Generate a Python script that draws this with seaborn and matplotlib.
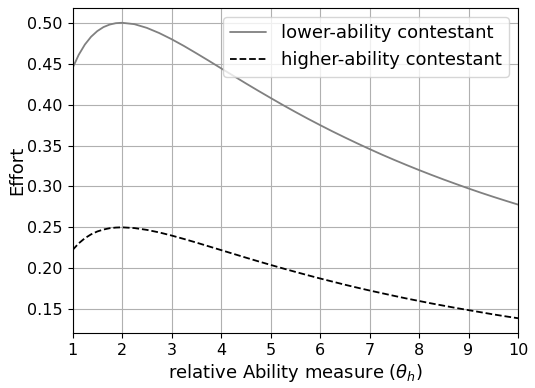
import numpy as np
import pandas as pd
import matplotlib
matplotlib.use("Agg")
import matplotlib.pyplot as plt
import seaborn as sns

theta = [1, 1.125, 1.25, 1.375, 1.5, 1.625, 1.75, 1.875, 2, 2.25, 2.5, 2.75, 3, 3.25, 3.5, 3.75,
         4, 4.25, 4.5, 4.75, 5, 5.25, 5.5, 5.75, 6, 6.25, 6.5, 6.75, 7, 7.25, 7.5, 7.75,
         8, 8.25, 8.5, 8.75, 9, 9.25, 9.5, 9.75, 10]
lower_effort = [0.4444, 0.4608, 0.4734, 0.4829, 0.4898, 0.4947, 0.4978, 0.4995, 0.5000, 0.4983,
                0.4938, 0.4875, 0.4800, 0.4717, 0.4628, 0.4537, 0.4444, 0.4352, 0.4260, 0.4170,
                0.4082, 0.3995, 0.3911, 0.3829, 0.3750, 0.3673, 0.3599, 0.3527, 0.3457, 0.3389,
                0.3324, 0.3261, 0.3200, 0.3141, 0.3084, 0.3029, 0.2975, 0.2923, 0.2873, 0.2825, 0.2778]
higher_effort = [0.2222, 0.2304, 0.2367, 0.2414, 0.2449, 0.2473, 0.2489, 0.2497, 0.2500, 0.2491,
                 0.2469, 0.2438, 0.2400, 0.2358, 0.2314, 0.2268, 0.2222, 0.2176, 0.2130, 0.2085,
                 0.2041, 0.1998, 0.1956, 0.1915, 0.1875, 0.1837, 0.1799, 0.1763, 0.1728, 0.1695,
                 0.1662, 0.1630, 0.1600, 0.1570, 0.1542, 0.1514, 0.1488, 0.1462, 0.1436, 0.1412, 0.1389]
series_names = ["lower-ability contestant", "higher-ability contestant"]

sns.set_style("white")
plt.rcParams["text.color"] = "black"
plt.rcParams["axes.labelcolor"] = "black"
plt.rcParams["xtick.color"] = "black"
plt.rcParams["ytick.color"] = "black"
fig = plt.figure(figsize=(5.35, 3.88), dpi=100)
ax = fig.add_axes([72.5/535, 55/388, (518-72.5)/535, (333-8)/388])

df = pd.DataFrame({"theta": theta, "lower": lower_effort, "higher": higher_effort})
sns.lineplot(data=df, x="theta", y="lower", ax=ax, color="gray", lw=1.3, label=series_names[0])
sns.lineplot(data=df, x="theta", y="higher", ax=ax, color="black", lw=1.3, ls="--", label=series_names[1])

ax.set_xlim(1, 10)
ax.set_xticks(range(1, 11))
ax.set_yticks([0.15, 0.20, 0.25, 0.30, 0.35, 0.40, 0.45, 0.50])
ax.grid(True, color="#b0b0b0", lw=0.8)
for s in ax.spines.values():
    s.set_color("black")
    s.set_linewidth(0.8)
ax.tick_params(axis="both", labelsize=11.5, length=3.5, width=0.8, color="black",
               labelcolor="black", left=True, bottom=True)
ax.set_xlabel(r"relative Ability measure ($\theta_h$)", fontsize=13, color="black", labelpad=3)
ax.set_ylabel("Effort", fontsize=13, color="black", labelpad=1)
leg = ax.legend(loc="upper right", fontsize=13)
for t in leg.get_texts():
    t.set_color("black")
fig.savefig("out.png", dpi=100)
